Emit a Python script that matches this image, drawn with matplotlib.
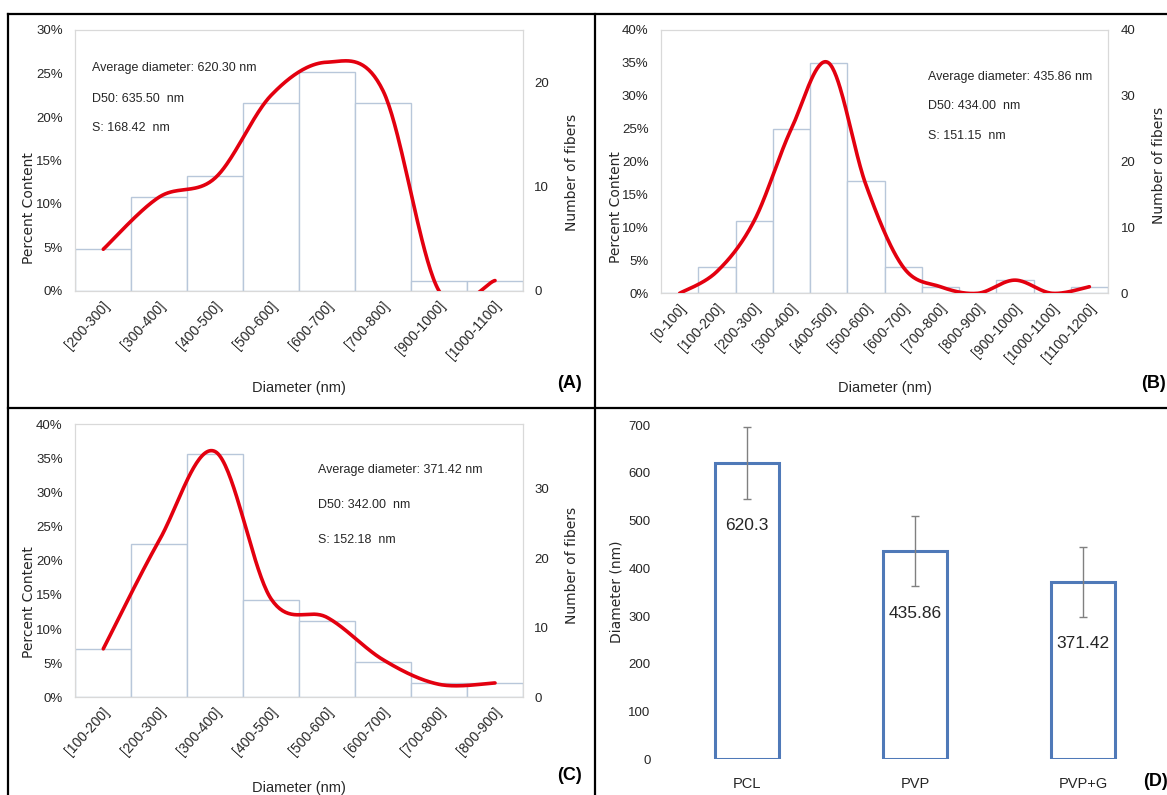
import numpy as np
import matplotlib
matplotlib.use("Agg")
import matplotlib.pyplot as plt
from matplotlib.lines import Line2D
from matplotlib.transforms import ScaledTranslation
from matplotlib.ticker import PercentFormatter, MultipleLocator

NARROW = ['Liberation Sans', 'DejaVu Sans']
WIDE = ['DejaVu Sans']
plt.rcParams['font.family'] = NARROW

# ---------------- data ----------------
a_bins = ['[200-300]', '[300-400]', '[400-500]', '[500-600]', '[600-700]',
          '[700-800]', '[900-1000]', '[1000-1100]']
a_counts = [4, 9, 11, 18, 21, 18, 1, 1]
a_curve = [4.8, 10.8, 13.0, 22.5, 26.3, 23.0, 0.0, 1.2]
a_stats = ['Average diameter: 620.30 nm', 'D50: 635.50  nm', 'S: 168.42  nm']

b_bins = ['[0-100]', '[100-200]', '[200-300]', '[300-400]', '[400-500]',
          '[500-600]', '[600-700]', '[700-800]', '[800-900]', '[900-1000]',
          '[1000-1100]', '[1100-1200]']
b_counts = [0, 4, 11, 25, 35, 17, 4, 1, 0, 2, 0, 1]
b_curve = [0.0, 3.3, 11.0, 25.0, 35.0, 16.5, 4.0, 1.0, 0.0, 2.0, 0.0, 1.0]
b_stats = ['Average diameter: 435.86 nm', 'D50: 434.00  nm', 'S: 151.15  nm']

c_bins = ['[100-200]', '[200-300]', '[300-400]', '[400-500]', '[500-600]',
          '[600-700]', '[700-800]', '[800-900]']
c_counts = [7, 22, 35, 14, 11, 5, 2, 2]
c_curve = [7.1, 23.0, 36.0, 14.4, 11.7, 5.5, 1.9, 2.1]
c_stats = ['Average diameter: 371.42 nm', 'D50: 342.00  nm', 'S: 152.18  nm']

d_groups = ['PCL', 'PVP', 'PVP+G']
d_means = [620.3, 435.86, 371.42]
d_errors = [75, 74, 74]
d_labels = ['620.3', '435.86', '371.42']

# ---------------- figure ----------------
W, H = 1167, 795
fig = plt.figure(figsize=(W / 100, H / 100), dpi=100)
fig.patch.set_facecolor('white')

TXT = '#262626'
RED = '#e3000f'
BAREDGE = '#b8c7da'
FRAME = '#d9d9d9'


def fx(x):
    return x / W


def fy(y):
    return 1 - y / H


def add_axes_px(left, top, right, bottom):
    return fig.add_axes([fx(left), fy(bottom), (right - left) / W, (bottom - top) / H])


def smooth(y, n=40):
    x = np.arange(len(y), dtype=float)
    pts = np.column_stack([x, np.asarray(y, dtype=float)])
    P = np.vstack([pts[0], pts, pts[-1]])
    out = []
    for i in range(1, len(P) - 2):
        p0, p1, p2, p3 = P[i - 1], P[i], P[i + 1], P[i + 2]
        b1 = p1 + (p2 - p0) / 6.0
        b2 = p2 - (p3 - p1) / 6.0
        t = np.linspace(0, 1, n)[:, None]
        seg = (1 - t) ** 3 * p1 + 3 * (1 - t) ** 2 * t * b1 + 3 * (1 - t) * t ** 2 * b2 + t ** 3 * p2
        out.append(seg if i == 1 else seg[1:])
    return np.vstack(out)


def hist_panel(box, bins, counts, curve, pct_max, cnt_max, cnt_step,
               stats, stats_x, stats_y, ylab_x, ylab_y, rlab_x, rlab_y,
               xlab_xy, lpad, rpad):
    left, top, right, bottom = box
    ax = add_axes_px(left, top, right, bottom)
    ax2 = ax.twinx()
    x = np.arange(len(bins))
    ax2.bar(x, counts, width=1.0, color='white', edgecolor=BAREDGE, linewidth=1.0)
    ax2.set_ylim(0, cnt_max)
    ax2.yaxis.set_major_locator(MultipleLocator(cnt_step))
    ax2.tick_params(axis='y', length=0, pad=rpad, labelsize=9.5, labelcolor=TXT)
    for s in ax2.spines.values():
        s.set_visible(False)

    xy = smooth(curve)
    ax.plot(xy[:, 0], xy[:, 1], color=RED, lw=2.6, solid_capstyle='round', zorder=5)
    ax.set_ylim(0, pct_max)
    ax.set_xlim(-0.5, len(bins) - 0.5)
    ax.yaxis.set_major_locator(MultipleLocator(5))
    ax.yaxis.set_major_formatter(PercentFormatter(decimals=0))
    ax.tick_params(axis='y', length=0, pad=lpad, labelsize=9.5, labelcolor=TXT)
    ax.set_xticks(x)
    ax.set_xticklabels(bins, rotation=48, ha='right', va='center',
                       rotation_mode='anchor', fontsize=10, color=TXT)
    ax.tick_params(axis='x', length=0, pad=9)
    off = ScaledTranslation(4 / 100, 0, fig.dpi_scale_trans)
    for lab in ax.get_xticklabels():
        lab.set_transform(lab.get_transform() + off)
    for s in ax.spines.values():
        s.set_color(FRAME)
        s.set_linewidth(0.9)
    ax.set_zorder(ax2.get_zorder() + 1)
    ax.patch.set_visible(False)

    for txt, yy in zip(stats, stats_y):
        fig.text(fx(stats_x), fy(yy), txt, fontsize=9, color=TXT, ha='left', va='center')
    fig.text(fx(ylab_x), fy(ylab_y), 'Percent Content', family=WIDE, fontsize=10,
             rotation=90, ha='center', va='center', color=TXT)
    fig.text(fx(rlab_x), fy(rlab_y), 'Number of fibers', family=WIDE, fontsize=10,
             rotation=90, ha='center', va='center', color=TXT)
    fig.text(fx(xlab_xy[0]), fy(xlab_xy[1]), 'Diameter (nm)', fontsize=10.5,
             ha='center', va='center', color=TXT)
    return ax


# Panel A
hist_panel((75.3, 30, 523, 291), a_bins, a_counts, a_curve, 30, 25.0, 10,
           a_stats, 91.5, (68, 99, 128), 29, 208, 572, 172, (299, 388), 9, 8)
fig.text(fx(570), fy(383), '(A)', fontsize=13, fontweight='bold', ha='center', va='center', color='black')

# Panel B
hist_panel((661, 30, 1108, 293.3), b_bins, b_counts, b_curve, 40, 40.0, 10,
           b_stats, 928, (77, 106, 136), 615.5, 207, 1159, 165, (885, 388), 9, 9)
fig.text(fx(1166), fy(383), '(B)', fontsize=13, fontweight='bold', ha='right', va='center', color='black')

# Panel C
hist_panel((75.3, 424.3, 523, 697.3), c_bins, c_counts, c_curve, 40, 39.2, 10,
           c_stats, 318, (470, 505, 540), 29, 602, 572, 565, (299, 788), 9, 8)
fig.text(fx(570), fy(775), '(C)', fontsize=13, fontweight='bold', ha='center', va='center', color='black')

# Panel D
axd = add_axes_px(663, 425, 1167, 759.3)
xd = np.arange(len(d_groups))
axd.bar(xd, d_means, width=0.38, color='white', edgecolor='#4f79b8', linewidth=2.2, zorder=2)
axd.errorbar(xd, d_means, yerr=d_errors, fmt='none', ecolor='#808080', elinewidth=1.0,
             capsize=3, capthick=1.0, zorder=3)
for xi, m, lab in zip(xd, d_means, d_labels):
    axd.annotate(lab, (xi, m), xytext=(0, -62), textcoords='offset pixels',
                 ha='center', va='center', fontsize=12.5, color=TXT, zorder=4)
axd.set_xlim(-0.5, len(d_groups) - 0.5)
axd.set_ylim(0, 700)
axd.yaxis.set_major_locator(MultipleLocator(100))
axd.tick_params(axis='y', length=0, pad=9, labelsize=9.5, labelcolor=TXT)
axd.set_xticks(xd)
axd.set_xticklabels(d_groups, fontsize=10.5, color=TXT)
axd.tick_params(axis='x', length=0, pad=13)
for s in axd.spines.values():
    s.set_visible(False)
axd.patch.set_visible(False)
fig.text(fx(617), fy(592), 'Diameter (nm)', family=WIDE, fontsize=10, rotation=90,
         ha='center', va='center', color=TXT)
fig.text(fx(1155), fy(782), '(D)', fontsize=13, fontweight='bold', ha='center', va='center', color='black')

# Panel frame lines
for (x0, y0, x1, y1) in [(7.5, 14, 1167, 14), (7.5, 14, 7.5, 795),
                         (595, 14, 595, 795), (7.5, 408, 1167, 408)]:
    fig.add_artist(Line2D([fx(x0), fx(x1)], [fy(y0), fy(y1)], color='black', lw=1.6,
                          transform=fig.transFigure))

fig.savefig('out.png', dpi=100, facecolor='white')
